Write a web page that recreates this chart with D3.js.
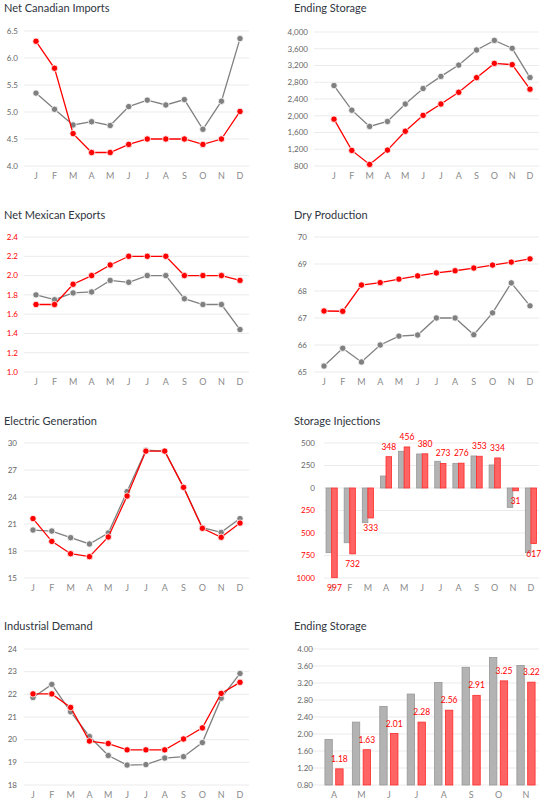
<!DOCTYPE html>
<html>
<head>
<meta charset="utf-8">
<script src="https://cdn.jsdelivr.net/npm/d3@7"></script>
<style>
  body { margin: 0; background: #fff; }
  text { font-family: Lato, "Open Sans", sans-serif; }
</style>
</head>
<body>
<div id="chart"></div>
<script>
const W = 552, H = 803;

// month letters
const months = ["J","F","M","A","M","J","J","A","S","O","N","D"];
const storMonths = ["A","M","J","J","A","S","O","N"];

// Net Canadian Imports
const canPrev = [5.35, 5.05, 4.76, 4.82, 4.75, 5.10, 5.22, 5.13, 5.23, 4.68, 5.20, 6.36];
const canCur  = [6.31, 5.81, 4.60, 4.25, 4.25, 4.40, 4.50, 4.50, 4.50, 4.40, 4.50, 5.01];
const canTicks = [4.0, 4.5, 5.0, 5.5, 6.0, 6.5];

// Ending Storage (line)
const storPrev = [2721, 2133, 1744, 1863, 2280, 2650, 2940, 3210, 3570, 3800, 3610, 2912];
const storCur  = [1919, 1172, 838, 1180, 1630, 2010, 2280, 2560, 2910, 3250, 3220, 2634];
const storTicks = [800, 1200, 1600, 2000, 2400, 2800, 3200, 3600, 4000];

// Net Mexican Exports
const mexPrev = [1.80, 1.75, 1.82, 1.83, 1.95, 1.93, 2.00, 2.00, 1.76, 1.70, 1.70, 1.44];
const mexCur  = [1.70, 1.70, 1.91, 2.00, 2.11, 2.20, 2.20, 2.20, 2.00, 2.00, 2.00, 1.95];
const mexTicks = [1.0, 1.2, 1.4, 1.6, 1.8, 2.0, 2.2, 2.4];

// Dry Production
const dryPrev = [65.22, 65.88, 65.37, 66.00, 66.33, 66.37, 67.00, 67.00, 66.38, 67.19, 68.30, 67.45];
const dryCur  = [67.26, 67.25, 68.22, 68.31, 68.44, 68.56, 68.67, 68.75, 68.85, 68.96, 69.07, 69.19];
const dryTicks = [65, 66, 67, 68, 69, 70];

// Electric Generation
const elecPrev = [20.33, 20.22, 19.48, 18.78, 20.0, 24.6, 29.2, 29.1, 25.1, 20.6, 20.07, 21.6];
const elecCur  = [21.6, 19.07, 17.7, 17.37, 19.56, 24.11, 29.1, 29.1, 25.07, 20.52, 19.52, 21.1];
const elecTicks = [15, 18, 21, 24, 27, 30];

// Storage Injections
const injPrev = [-719, -608, -385, 133, 408, 378, 297, 274, 356, 256, -215, -719];
const injCur  = [-997, -732, -333, 348, 456, 380, 273, 276, 353, 334, -31, -617];
const injTicks = [-1000, -750, -500, -250, 0, 250, 500];

// Industrial Demand
const indPrev = [21.86, 22.44, 21.23, 20.14, 19.30, 18.88, 18.90, 19.19, 19.25, 19.87, 21.83, 22.92];
const indCur  = [22.02, 22.02, 21.42, 19.94, 19.83, 19.55, 19.55, 19.55, 20.03, 20.52, 22.04, 22.53];
const indTicks = [18, 19, 20, 21, 22, 23, 24];

// Ending Storage (bars, Apr-Nov, Tcf)
const esPrev = [1.87, 2.28, 2.65, 2.94, 3.21, 3.57, 3.80, 3.61];
const esCur  = [1.18, 1.63, 2.01, 2.28, 2.56, 2.91, 3.25, 3.22];
const esTicks = [0.8, 1.2, 1.6, 2.0, 2.4, 2.8, 3.2, 3.6, 4.0];

const RED = "#ff0000", GREY = "#808080";

const svg = d3.select("#chart").append("svg")
  .attr("width", W)
  .attr("height", H);

function frame(o) {
  const g = svg.append("g");
  g.append("text")
    .attr("x", o.titleX).attr("y", o.titleY)
    .attr("font-size", 11).attr("fill", "#303540")
    .text(o.title);

  const y = d3.scaleLinear().domain(o.domain).range([o.yBottom, o.yTop]);
  // gridlines
  g.selectAll(".grid").data(o.ticks).enter().append("line")
    .attr("x1", o.gridL).attr("x2", o.gridR)
    .attr("y1", d => y(d)).attr("y2", d => y(d))
    .attr("stroke", "#ebebeb").attr("stroke-width", 1);
  // y labels
  g.selectAll(".yl").data(o.ticks).enter().append("text")
    .attr("x", o.labelR).attr("y", d => y(d))
    .attr("dy", "0.35em").attr("text-anchor", "end")
    .attr("font-size", 8)
    .attr("fill", d => o.tickColor ? o.tickColor(d) : "#666")
    .text(o.fmt);
  return { g, y };
}

function xLabels(g, cats, x, yPos) {
  g.selectAll(".xl").data(cats).enter().append("text")
    .attr("x", (d, i) => x(i)).attr("y", yPos)
    .attr("dy", "0.35em").attr("text-anchor", "middle")
    .attr("font-size", 9).attr("fill", "#8a8a8a")
    .text(d => d);
}

function lineChart(o) {
  const { g, y } = frame(o);
  const x = d3.scalePoint().domain(d3.range(months.length)).range([o.xFirst, o.xLast]);
  xLabels(g, months, x, o.xLabY);
  const line = d3.line().x((d, i) => x(i)).y(d => y(d));
  [[o.prev, GREY], [o.cur, RED]].forEach(([vals, col]) => {
    g.append("path").datum(vals)
      .attr("d", line).attr("fill", "none")
      .attr("stroke", col).attr("stroke-width", 1.3);
    g.selectAll(null).data(vals).enter().append("circle")
      .attr("cx", (d, i) => x(i)).attr("cy", d => y(d))
      .attr("r", 3.2).attr("fill", col)
      .attr("stroke", "#fff").attr("stroke-width", 0.8);
  });
}

function barChart(o) {
  const { g, y } = frame(o);
  const x = d3.scaleBand().domain(d3.range(o.cats.length))
    .range([o.xL, o.xR]).paddingInner(o.pad).paddingOuter(o.pad / 2);
  const xc = i => x(i) + x.bandwidth() / 2;
  xLabels(g, o.cats, xc, o.xLabY);
  const base = o.base;
  const bw = o.barW;
  const top = d => Math.min(y(d), y(base));
  const hgt = d => Math.abs(y(d) - y(base));
  g.selectAll(null).data(o.prev).enter().append("rect")
    .attr("x", (d, i) => xc(i) - o.gap / 2 - bw)
    .attr("y", top).attr("width", bw).attr("height", hgt)
    .attr("fill", "#b3b3b3").attr("stroke", "#979797").attr("stroke-width", 0.8);
  g.selectAll(null).data(o.cur).enter().append("rect")
    .attr("x", (d, i) => xc(i) + o.gap / 2)
    .attr("y", top).attr("width", bw).attr("height", hgt)
    .attr("fill", "#ff6464").attr("stroke", "#ff2a2a").attr("stroke-width", 0.8);
  g.selectAll(null).data(o.cur).enter().append("text")
    .attr("x", (d, i) => xc(i) + o.gap / 2 + bw / 2)
    .attr("y", d => d >= base ? y(d) - 10 : y(d) + 10)
    .attr("dy", "0.35em").attr("text-anchor", "middle")
    .attr("font-size", 8.5).attr("fill", RED)
    .text(o.labFmt);
}

const f1 = d3.format(".1f");

lineChart({
  title: "Net Canadian Imports", titleX: 4, titleY: 12,
  domain: [4.0, 6.5], ticks: canTicks, yTop: 31, yBottom: 166,
  gridL: 24, gridR: 249, labelR: 18, fmt: f1,
  xFirst: 36, xLast: 240, xLabY: 176,
  prev: canPrev, cur: canCur
});

lineChart({
  title: "Ending Storage", titleX: 294, titleY: 12,
  domain: [800, 4000], ticks: storTicks, yTop: 32, yBottom: 166,
  gridL: 314, gridR: 539, labelR: 308, fmt: d3.format(","),
  xFirst: 334, xLast: 530, xLabY: 176,
  prev: storPrev, cur: storCur
});

lineChart({
  title: "Net Mexican Exports", titleX: 4, titleY: 219,
  domain: [1.0, 2.4], ticks: mexTicks, yTop: 237, yBottom: 372,
  gridL: 24, gridR: 249, labelR: 18, fmt: f1, tickColor: () => RED,
  xFirst: 36, xLast: 240, xLabY: 382,
  prev: mexPrev, cur: mexCur
});

lineChart({
  title: "Dry Production", titleX: 294, titleY: 219,
  domain: [65, 70], ticks: dryTicks, yTop: 237, yBottom: 372,
  gridL: 314, gridR: 539, labelR: 307, fmt: d3.format("d"),
  xFirst: 324, xLast: 530, xLabY: 382,
  prev: dryPrev, cur: dryCur
});

lineChart({
  title: "Electric Generation", titleX: 4, titleY: 425,
  domain: [15, 30], ticks: elecTicks, yTop: 443, yBottom: 578,
  gridL: 24, gridR: 249, labelR: 17, fmt: d3.format("d"),
  xFirst: 33, xLast: 240, xLabY: 588,
  prev: elecPrev, cur: elecCur
});

barChart({
  title: "Storage Injections", titleX: 294, titleY: 425,
  domain: [-1000, 500], ticks: injTicks, yTop: 443, yBottom: 578,
  gridL: 324, gridR: 539, labelR: 315,
  fmt: d => Math.abs(d), tickColor: d => d < 0 ? RED : "#666",
  cats: months, xL: 322.6, xR: 540, pad: 0.3, barW: 5.6, gap: 0, base: 0,
  xLabY: 588, prev: injPrev, cur: injCur,
  labFmt: d => Math.abs(d)
});

lineChart({
  title: "Industrial Demand", titleX: 4, titleY: 630,
  domain: [18, 24], ticks: indTicks, yTop: 649, yBottom: 785,
  gridL: 24, gridR: 249, labelR: 17, fmt: d3.format("d"),
  xFirst: 33, xLast: 240, xLabY: 795,
  prev: indPrev, cur: indCur
});

barChart({
  title: "Ending Storage", titleX: 294, titleY: 630,
  domain: [0.8, 4.0], ticks: esTicks, yTop: 649, yBottom: 785,
  gridL: 311, gridR: 539, labelR: 313, fmt: d3.format(".2f"),
  cats: storMonths, xL: 320.3, xR: 539.7, pad: 0.3, barW: 7.4, gap: 3.4, base: 0.8,
  xLabY: 795, prev: esPrev, cur: esCur,
  labFmt: d3.format(".2f")
});
</script>
</body>
</html>
